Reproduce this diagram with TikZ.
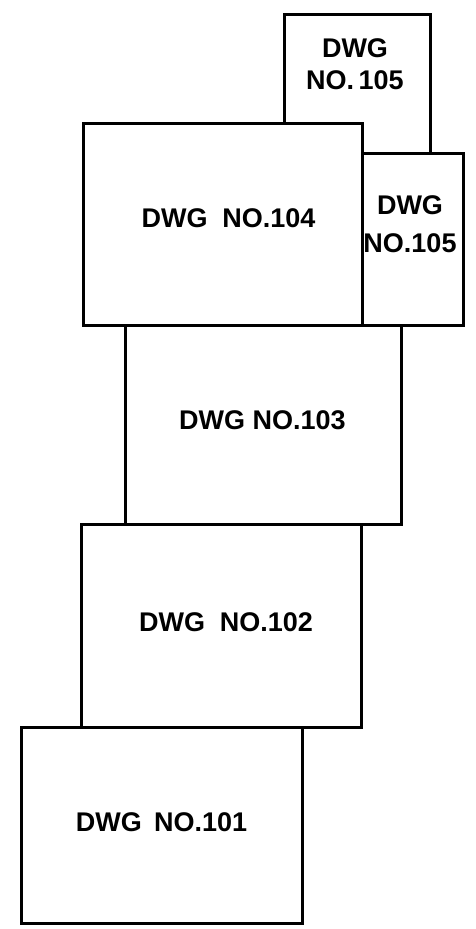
\documentclass[tikz,border=0pt]{standalone}
\usepackage{fontspec}
\setmainfont{Liberation Sans}
\begin{document}
\begin{tikzpicture}[x=1pt,y=-1pt,
  sheet/.style={draw=black,fill=white,line width=3pt,rectangle,inner sep=0pt},
  lbl/.style={inner sep=0pt,align=center,font=\fontsize{27}{32}\selectfont\bfseries}]
\useasboundingbox[fill=white] (0,0) rectangle (476,929);
% sheets (drawn back to front)
\node[sheet,minimum width=146pt,minimum height=139pt] (b105a) at (357,83.5) {};
\node[sheet,minimum width=279pt,minimum height=202pt] (b104) at (222.5,224) {};
\node[sheet,minimum width=101pt,minimum height=172pt] (b105b) at (412.5,239) {};
\node[sheet,minimum width=276pt,minimum height=199pt] (b103) at (263,424.5) {};
\node[sheet,minimum width=280pt,minimum height=203pt] (b102) at (221,625.5) {};
\node[sheet,minimum width=281pt,minimum height=196pt] (b101) at (161.5,825) {};
% labels
\node[lbl] (t105a) at (355,64) {DWG\\NO.\,105};
\node[lbl] (t104) at (228.5,218) {DWG\hspace{0.55em}NO.104};
\node[lbl,font=\fontsize{27}{38}\selectfont\bfseries] (t105b) at (410,224) {DWG\\NO.105};
\node[lbl] (t103) at (262.5,420) {DWG NO.103};
\node[lbl] (t102) at (226,622) {DWG\hspace{0.55em}NO.102};
\node[lbl] (t101) at (161.5,822) {DWG\hspace{0.45em}NO.101};
\end{tikzpicture}
\end{document}
